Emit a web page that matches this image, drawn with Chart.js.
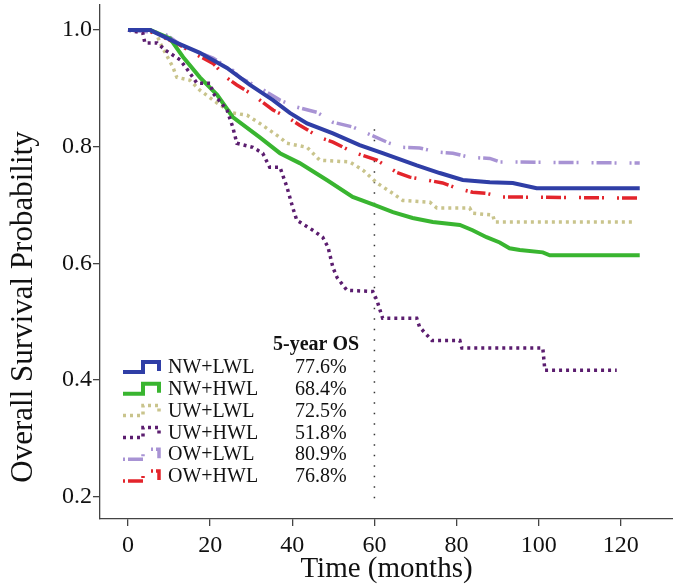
<!DOCTYPE html>
<html>
<head>
<meta charset="utf-8">
<script src="https://cdn.jsdelivr.net/npm/chart.js@4.4.1/dist/chart.umd.min.js"></script>
<style>
  html, body { margin: 0; padding: 0; background: #fff; }
  canvas { display: block; }
</style>
</head>
<body>
<canvas id="kmChart" width="673" height="587"></canvas>
<script>
// groups and 5-year OS shown in the table
const groups = ["NW+LWL", "NW+HWL", "UW+LWL", "UW+HWL", "OW+LWL", "OW+HWL"];
const os5 = ["77.6%", "68.4%", "72.5%", "51.8%", "80.9%", "76.8%"];

const xTicks = [0, 20, 40, 60, 80, 100, 120];
const yTicks = [0.2, 0.4, 0.6, 0.8, 1.0];

// 60-month reference line
const refMonth = 60;
const refSpan = [0.83, 0.185];

// curves: months / survival
const nwLwlT = [0, 5.4, 11.9, 17.5, 24.1, 29.7, 35.3, 39.4, 43.6, 49.9, 56.4, 62.0, 70.3, 75.9, 81.5, 88.1, 93.7, 99.5, 124.6];
const nwLwlS = [1.0, 1.0, 0.978, 0.961, 0.935, 0.906, 0.880, 0.858, 0.840, 0.823, 0.803, 0.789, 0.768, 0.755, 0.743, 0.739, 0.738, 0.729, 0.729];

const nwHwlT = [0, 5.4, 10.2, 13.4, 17.5, 21.7, 25.5, 32.1, 37.0, 41.8, 48.4, 54.7, 60.1, 64.5, 69.3, 74.2, 80.8, 83.9, 87.3, 90.5, 92.9, 95.4, 101.0, 102.7, 124.6];
const nwHwlS = [1.0, 1.0, 0.986, 0.954, 0.919, 0.889, 0.851, 0.816, 0.789, 0.772, 0.743, 0.714, 0.700, 0.688, 0.678, 0.671, 0.666, 0.657, 0.645, 0.636, 0.626, 0.623, 0.619, 0.614, 0.614];

const uwLwlT = [0, 6.6, 7.8, 10.9, 11.9, 15.1, 17.5, 21.7, 25.5, 29.0, 32.1, 37.0, 38.7, 43.6, 46.7, 54.0, 57.2, 60.6, 64.5, 66.9, 73.5, 75.2, 83.2, 83.9, 88.8, 89.3, 122.9];
const uwLwlS = [1.0, 1.0, 0.978, 0.937, 0.919, 0.914, 0.897, 0.875, 0.858, 0.854, 0.840, 0.816, 0.806, 0.799, 0.777, 0.774, 0.760, 0.738, 0.720, 0.708, 0.705, 0.695, 0.695, 0.686, 0.683, 0.671, 0.671];

const uwHwlT = [0, 3.6, 4.1, 7.1, 9.0, 12.7, 15.1, 16.8, 20.0, 20.7, 24.1, 25.5, 26.5, 30.4, 32.8, 34.5, 37.0, 38.7, 40.1, 41.1, 45.0, 47.4, 48.7, 49.9, 50.9, 53.3, 59.6, 60.6, 62.0, 70.3, 71.0, 74.0, 80.8, 81.3, 101.0, 101.5, 119.0];
const uwHwlS = [1.0, 0.995, 0.978, 0.978, 0.966, 0.949, 0.926, 0.909, 0.909, 0.892, 0.863, 0.834, 0.806, 0.799, 0.789, 0.765, 0.765, 0.731, 0.696, 0.674, 0.657, 0.645, 0.628, 0.593, 0.576, 0.554, 0.552, 0.537, 0.506, 0.506, 0.491, 0.468, 0.468, 0.455, 0.455, 0.417, 0.417];

const owLwlT = [0, 8.5, 10.2, 14.4, 17.5, 20.7, 25.5, 27.3, 32.1, 37.0, 41.1, 46.0, 49.9, 54.7, 58.2, 63.7, 66.9, 71.0, 75.2, 79.1, 83.2, 88.1, 90.5, 124.6];
const owLwlS = [1.0, 0.995, 0.988, 0.966, 0.961, 0.952, 0.931, 0.918, 0.901, 0.880, 0.868, 0.859, 0.842, 0.834, 0.823, 0.806, 0.799, 0.798, 0.791, 0.789, 0.782, 0.780, 0.774, 0.772];

const owHwlT = [0, 4.6, 8.5, 12.7, 15.8, 20.7, 24.1, 26.5, 30.4, 35.3, 38.7, 41.8, 46.7, 49.9, 54.7, 60.6, 65.5, 68.6, 72.7, 76.6, 80.0, 83.9, 87.3, 91.2, 124.6];
const owHwlS = [1.0, 1.0, 0.988, 0.974, 0.961, 0.943, 0.918, 0.906, 0.889, 0.863, 0.851, 0.837, 0.816, 0.808, 0.791, 0.777, 0.756, 0.748, 0.743, 0.738, 0.729, 0.722, 0.720, 0.714, 0.712];

const curves = [
  [nwLwlT, nwLwlS], [nwHwlT, nwHwlS], [uwLwlT, uwLwlS],
  [uwHwlT, uwHwlS], [owLwlT, owLwlS], [owHwlT, owHwlS]
];

// line styles per group
const dashDot = [2, 3, 15, 3, 2, 13];
const styles = [
  { color: "#2f3ea6", width: 4, dash: [] },
  { color: "#39b530", width: 4, dash: [] },
  { color: "#c9c48c", width: 3.5, dash: [3, 4] },
  { color: "#5b1d6f", width: 3.5, dash: [3, 4] },
  { color: "#a893d4", width: 3.5, dash: dashDot },
  { color: "#e3242b", width: 3.5, dash: dashDot }
];

const serif = "'Liberation Serif', 'Times New Roman', serif";

const datasets = groups.map((g, i) => ({
  label: g,
  data: curves[i][0].map((t, k) => ({ x: t, y: curves[i][1][k] })),
  borderColor: styles[i].color,
  borderWidth: styles[i].width,
  borderDash: styles[i].dash,
  borderCapStyle: "butt",
  pointRadius: 0,
  tension: 0,
  fill: false
}));

// draw order: lavender and red under the others
const order = [4, 5, 2, 1, 3, 0];
order.forEach((idx, n) => { datasets[idx].order = 6 - n; });

datasets.push({
  label: "ref",
  data: refSpan.map(v => ({ x: refMonth, y: v })),
  borderColor: "#333",
  borderWidth: 1.5,
  borderDash: [1.5, 9],
  pointRadius: 0,
  fill: false,
  order: 10
});

// y title and the 5-year OS table
const tablePlugin = {
  id: "osTable",
  afterDatasetsDraw(chart) {
    const ctx = chart.ctx;
    ctx.save();
    ctx.fillStyle = "#111";
    ctx.font = "31px " + serif;
    ctx.textAlign = "center";
    ctx.textBaseline = "middle";
    ctx.translate(24, 307);
    ctx.rotate(-Math.PI / 2);
    ctx.fillText("Overall Survival Probability", 0, 0);
    ctx.restore();

    ctx.save();
    ctx.fillStyle = "#111";
    ctx.textBaseline = "middle";
    ctx.textAlign = "left";
    ctx.font = "bold 20px " + serif;
    ctx.fillText("5-year OS", 273, 345);
    ctx.font = "20px " + serif;
    groups.forEach((g, i) => {
      const y = 368 + i * 21.8;
      const st = styles[i];
      ctx.save();
      ctx.strokeStyle = st.color;
      ctx.lineWidth = st.width;
      ctx.setLineDash(st.dash);
      ctx.lineCap = "butt";
      ctx.beginPath();
      ctx.moveTo(123, y + 4);
      ctx.lineTo(143, y + 4);
      ctx.lineTo(143, y - 6);
      ctx.lineTo(159, y - 6);
      ctx.lineTo(159, y + 3);
      ctx.stroke();
      ctx.restore();
      ctx.fillText(g, 168, y);
      ctx.fillText(os5[i], 295, y);
    });
    ctx.restore();
  }
};

const ctx = document.getElementById("kmChart").getContext("2d");
const chart = new Chart(ctx, {
  type: "line",
  data: { datasets: datasets },
  plugins: [tablePlugin],
  options: {
    responsive: false,
    animation: false,
    layout: { padding: { top: 5, left: 0, right: 0, bottom: 0 } },
    plugins: {
      legend: { display: false },
      tooltip: { enabled: false }
    },
    scales: {
      x: {
        type: "linear",
        min: -6.82,
        max: 132.7,
        afterBuildTicks: s => { s.ticks = xTicks.map(v => ({ value: v })); },
        afterFit: s => { s.height = 68; s.paddingLeft = 0; s.paddingRight = 0; },
        grid: { drawOnChartArea: false, drawTicks: true, tickLength: 7, color: "#444", lineWidth: 1.3 },
        border: { display: true, color: "#444", width: 1.3 },
        ticks: { color: "#111", font: { family: serif, size: 24 }, padding: 5, maxRotation: 0 },
        title: { display: true, text: "Time (months)", color: "#111", font: { family: serif, size: 29 }, padding: { top: 0, bottom: 0 } }
      },
      y: {
        type: "linear",
        min: 0.162,
        max: 1.043,
        afterBuildTicks: s => { s.ticks = yTicks.map(v => ({ value: v })); },
        afterFit: s => { s.width = 100; s.paddingTop = 0; s.paddingBottom = 0; },
        grid: { drawOnChartArea: false, drawTicks: true, tickLength: 7, color: "#444", lineWidth: 1.3 },
        border: { display: true, color: "#444", width: 1.3 },
        ticks: { color: "#111", font: { family: serif, size: 24 }, padding: 1, callback: v => v.toFixed(1) }
      }
    }
  }
});
</script>
</body>
</html>
